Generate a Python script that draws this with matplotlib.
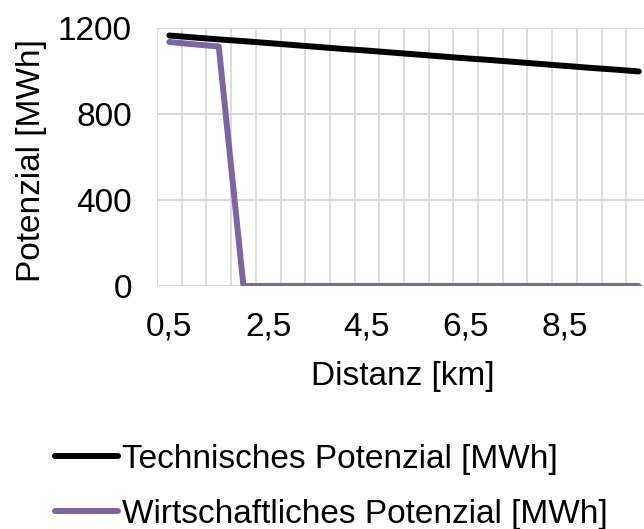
import numpy as np
import matplotlib.pyplot as plt

plt.rcParams['font.family'] = ['Liberation Sans', 'DejaVu Sans']

# distance categories in km (0,5 ... 10,0)
distanz = [0.5, 1.0, 1.5, 2.0, 2.5, 3.0, 3.5, 4.0, 4.5, 5.0,
           5.5, 6.0, 6.5, 7.0, 7.5, 8.0, 8.5, 9.0, 9.5, 10.0]
technisch = [1165, 1156, 1147, 1139, 1130, 1121, 1112, 1103, 1095, 1086,
             1077, 1068, 1059, 1051, 1042, 1033, 1024, 1015, 1007, 998]
wirtschaftlich = [1135, 1124, 1114, 0, 0, 0, 0, 0, 0, 0,
                  0, 0, 0, 0, 0, 0, 0, 0, 0, 0]
y_ticks = [0, 400, 800, 1200]

FS = 24
GRID = '#d9d9d9'

fig = plt.figure(figsize=(6.44, 5.29), dpi=100)
ax = fig.add_axes([157 / 644, 1 - 286 / 529, 494 / 644, 258 / 529])

x = np.arange(len(distanz))
l1, = ax.plot(x, technisch, color='black', lw=4.3, solid_capstyle='round',
              label='Technisches Potenzial [MWh]', zorder=3)
l2, = ax.plot(x, wirtschaftlich, color='#8064a2', lw=4.3, solid_capstyle='round',
              label='Wirtschaftliches Potenzial [MWh]', zorder=3)

# category axis: gridlines between the categories
ax.set_xlim(-0.5, len(distanz) - 0.5)
ax.set_xticks(x[::4])
ax.set_xticklabels([f'{d:.1f}'.replace('.', ',') for d in distanz[::4]])
ax.set_ylim(0, 1200)
ax.set_yticks(y_ticks)

for xv in np.arange(-0.5, len(distanz), 1):
    ax.axvline(xv, color=GRID, lw=1.3, zorder=1)
for yv in y_ticks:
    ax.axhline(yv, color=GRID, lw=1.3, zorder=1)

for s in ax.spines.values():
    s.set_visible(False)
ax.tick_params(which='both', length=0, labelsize=FS)
ax.tick_params(axis='x', pad=18)
ax.tick_params(axis='y', pad=18)

ax.set_xlabel('Distanz [km]', fontsize=FS)
ax.set_ylabel('Potenzial [MWh]', fontsize=FS)
ax.xaxis.set_label_coords(0.498, -0.29)
ax.yaxis.set_label_coords(-0.223, 0.485)

fig.legend(handles=[l1, l2], loc='upper left', bbox_to_anchor=(55 / 644, 1 - 444 / 529),
           frameon=False, fontsize=FS, handlelength=1.9, handletextpad=0.12,
           labelspacing=0.72, borderaxespad=0, borderpad=0)

fig.savefig('out.png', dpi=100)
